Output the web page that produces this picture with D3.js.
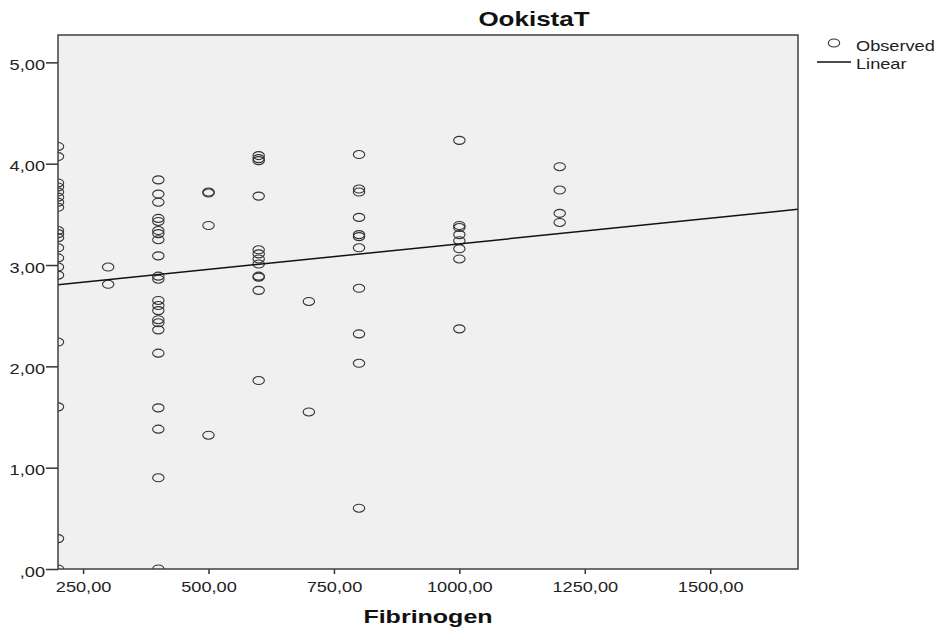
<!DOCTYPE html>
<meta charset="utf-8">
<style>
    body {
        margin: 0;
        background: #fff;
        font-family: "Liberation Sans", Arial, sans-serif;
    }
    .axis .domain {
        display: none;
    }
    .axis line {
        stroke: #333;
    }
    .axis text {
        fill: #222;
        font-size: 14px;
        font-family: "Liberation Sans", Arial, sans-serif;
    }
</style>

<svg width="939" height="629"></svg>
<script src="https://d3js.org/d3.v7.min.js"></script>
<script>

    // Fibrinogen levels (x) and the OokistaT values observed at each level
    var fibrinogenLevels = [200, 300, 400, 500, 600, 700, 800, 1000, 1200];
    var ookistaAt200 = [4.17, 4.07, 3.81, 3.77, 3.72, 3.67, 3.62, 3.57, 3.34, 3.31, 3.27, 3.17, 3.07, 2.98, 2.90, 2.24, 1.60, 0.30, 0.00];
    var ookistaAt300 = [2.98, 2.81];
    var ookistaAt400 = [3.84, 3.70, 3.62, 3.46, 3.43, 3.34, 3.31, 3.25, 3.09, 2.89, 2.86, 2.65, 2.60, 2.55, 2.46, 2.43, 2.36, 2.13, 1.59, 1.38, 0.90, 0.00];
    var ookistaAt500 = [3.72, 3.71, 3.39, 1.32];
    var ookistaAt600 = [4.08, 4.05, 4.03, 3.68, 3.15, 3.11, 3.06, 3.01, 2.89, 2.88, 2.75, 1.86];
    var ookistaAt700 = [2.64, 1.55];
    var ookistaAt800 = [4.09, 3.75, 3.72, 3.47, 3.30, 3.28, 3.17, 2.77, 2.32, 2.03, 0.60];
    var ookistaAt1000 = [4.23, 3.39, 3.37, 3.30, 3.24, 3.16, 3.06, 2.37];
    var ookistaAt1200 = [3.97, 3.74, 3.51, 3.42];
    var ookistaByLevel = [ookistaAt200, ookistaAt300, ookistaAt400, ookistaAt500, ookistaAt600,
                          ookistaAt700, ookistaAt800, ookistaAt1000, ookistaAt1200];

    // linear fit line, read at both ends of the x range
    var linearX = [200, 1675];
    var linearY = [2.805, 3.55];

    var xTicks = [250, 500, 750, 1000, 1250, 1500];
    var xTickLabels = ["250,00", "500,00", "750,00", "1000,00", "1250,00", "1500,00"];
    var yTicks = [0, 1, 2, 3, 4, 5];
    var yTickLabels = [",00", "1,00", "2,00", "3,00", "4,00", "5,00"];

    var xDomain = [200, 1675];
    var yDomain = [0, 5.27];

    var points = [];
    fibrinogenLevels.forEach(function(f, i) {
        ookistaByLevel[i].forEach(function(v) { points.push({x: f, y: v}); });
    });

    var svg = d3.select("svg"),
        margin = {top: 35, right: 141, bottom: 60, left: 58},
        width = +svg.attr("width") - margin.left - margin.right,
        height = +svg.attr("height") - margin.top - margin.bottom,
        g = svg.append("g").attr("transform", "translate(" + margin.left + "," + margin.top + ")");

    var sx = 1.3; // the source text is drawn horizontally stretched

    function stretch(sel, k) {
        sel.each(function() {
            var t = d3.select(this), x0 = +t.attr("x") || 0;
            t.attr("transform", "translate(" + x0 + ",0) scale(" + k + ",1) translate(" + (-x0) + ",0)");
        });
    }

    var x = d3.scaleLinear().domain(xDomain).range([0, width]);
    var y = d3.scaleLinear().domain(yDomain).range([height, 0]);

    svg.append("defs").append("clipPath").attr("id", "plotclip")
        .append("rect").attr("width", width).attr("height", height);

    g.append("rect")
        .attr("width", width)
        .attr("height", height)
        .attr("fill", "#f0f0f0");

    var xAxis = g.append("g")
        .attr("class", "axis")
        .attr("transform", "translate(0," + height + ")")
        .call(d3.axisBottom(x).tickValues(xTicks)
            .tickFormat(function(d, i) { return xTickLabels[i]; })
            .tickSize(5).tickSizeOuter(0).tickPadding(8));
    xAxis.selectAll(".tick line").attr("stroke-width", 1.5);
    xAxis.selectAll(".tick text").attr("dy", "0.71em").call(stretch, sx);

    var yAxis = g.append("g")
        .attr("class", "axis")
        .call(d3.axisLeft(y).tickValues(yTicks)
            .tickFormat(function(d, i) { return yTickLabels[i]; })
            .tickSize(12).tickSizeOuter(0).tickPadding(1));
    yAxis.selectAll(".tick line").attr("stroke-width", 1.5);
    yAxis.selectAll(".tick text").attr("dy", "0.5em").call(stretch, sx);

    var plot = g.append("g").attr("clip-path", "url(#plotclip)");

    plot.selectAll("ellipse")
        .data(points)
        .enter().append("ellipse")
        .attr("cx", function(d) { return x(d.x); })
        .attr("cy", function(d) { return y(d.y); })
        .attr("rx", 5.7)
        .attr("ry", 4)
        .attr("fill", "none")
        .attr("stroke", "#333")
        .attr("stroke-width", 1.1);

    plot.append("path")
        .datum(d3.zip(linearX, linearY))
        .attr("fill", "none")
        .attr("stroke", "#111")
        .attr("stroke-width", 1.5)
        .attr("d", d3.line()
            .x(function(d) { return x(d[0]); })
            .y(function(d) { return y(d[1]); }));

    g.append("rect")
        .attr("width", width)
        .attr("height", height)
        .attr("fill", "none")
        .attr("stroke", "#404040")
        .attr("stroke-width", 1.5);

    svg.append("text")
        .attr("x", 534)
        .attr("y", 26)
        .attr("text-anchor", "middle")
        .style("font-size", "20px")
        .style("font-weight", "bold")
        .style("fill", "#111")
        .text("OokistaT")
        .call(stretch, sx);

    svg.append("text")
        .attr("x", margin.left + width / 2)
        .attr("y", 623)
        .attr("text-anchor", "middle")
        .style("font-size", "18px")
        .style("font-weight", "bold")
        .style("fill", "#111")
        .text("Fibrinogen")
        .call(stretch, 1.39);

    // legend
    var legend = svg.append("g").attr("transform", "translate(834,0)");

    legend.append("ellipse")
        .attr("cx", 0)
        .attr("cy", 43)
        .attr("rx", 5.7)
        .attr("ry", 4)
        .attr("fill", "none")
        .attr("stroke", "#333")
        .attr("stroke-width", 1.1);

    legend.append("line")
        .attr("x1", -17)
        .attr("x2", 17)
        .attr("y1", 62)
        .attr("y2", 62)
        .attr("stroke", "#111")
        .attr("stroke-width", 1.5);

    legend.selectAll("text")
        .data(["Observed", "Linear"])
        .enter().append("text")
        .attr("x", 22)
        .attr("y", function(d, i) { return 51 + i * 18; })
        .style("font-size", "14px")
        .style("fill", "#222")
        .text(function(d) { return d; })
        .call(stretch, sx);

</script>
